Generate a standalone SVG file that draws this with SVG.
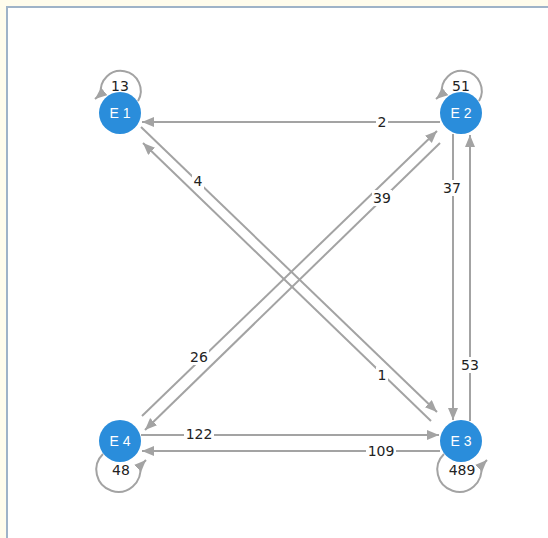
<svg xmlns="http://www.w3.org/2000/svg" width="548" height="538" viewBox="0 0 548 538">
<defs>
<style>
.e{fill:none;stroke:#a3a3a3;stroke-width:2}
.n{fill:#2a8ddb}
.nl{font-family:"Liberation Sans",Arial,sans-serif;font-size:14px;fill:#ffffff;text-anchor:middle}
.el{font-family:"DejaVu Sans","Liberation Sans",sans-serif;font-size:14px;fill:#222222;text-anchor:middle}
.bg{fill:#ffffff}
</style>
<marker id="ah" markerUnits="userSpaceOnUse" markerWidth="14" markerHeight="12" refX="12" refY="5" orient="auto">
<path d="M0,0 L12,5 L0,10 z" fill="#a3a3a3"/>
</marker>
</defs>
<rect x="0" y="0" width="548" height="538" fill="#fffcec"/>
<rect x="7" y="7" width="545" height="540" fill="#ffffff" stroke="#9fb3c8" stroke-width="2"/>
<g id="connectors">
<line class="e" x1="440" y1="122" x2="142" y2="122" marker-end="url(#ah)"/>
<line class="e" x1="141" y1="127" x2="437" y2="412" marker-end="url(#ah)"/>
<line class="e" x1="431" y1="421" x2="143" y2="143" marker-end="url(#ah)"/>
<line class="e" x1="440" y1="143" x2="145" y2="430" marker-end="url(#ah)"/>
<line class="e" x1="142" y1="416" x2="437" y2="131" marker-end="url(#ah)"/>
<line class="e" x1="453" y1="134" x2="453" y2="420" marker-end="url(#ah)"/>
<line class="e" x1="470" y1="421" x2="470" y2="135" marker-end="url(#ah)"/>
<line class="e" x1="141" y1="435" x2="439" y2="435" marker-end="url(#ah)"/>
<line class="e" x1="440" y1="451" x2="142" y2="451" marker-end="url(#ah)"/>
<path class="e" d="M138,101 A20,20 0 1 0 101,94 L95,99" marker-end="url(#ah)"/>
<path class="e" d="M479,101 A20,20 0 1 0 442,94 L436,99" marker-end="url(#ah)"/>
<path class="e" d="M103,454 A22,22 0 1 0 140,466 L146,460" marker-end="url(#ah)"/>
<path class="e" d="M444,454 A22,22 0 1 0 481,466 L487,460" marker-end="url(#ah)"/>
</g>
<g id="edge-labels">
<rect class="bg" x="376" y="114" width="12" height="16"/><text class="el" x="382" y="127">2</text>
<rect class="bg" x="192" y="173" width="12" height="16"/><text class="el" x="198" y="186">4</text>
<rect class="bg" x="376" y="367" width="12" height="16"/><text class="el" x="382" y="380">1</text>
<rect class="bg" x="372" y="190" width="20" height="16"/><text class="el" x="382" y="203">39</text>
<rect class="bg" x="189" y="349" width="20" height="16"/><text class="el" x="199" y="362">26</text>
<rect class="bg" x="442" y="180" width="20" height="16"/><text class="el" x="452" y="193">37</text>
<rect class="bg" x="460" y="357" width="20" height="16"/><text class="el" x="470" y="370">53</text>
<rect class="bg" x="184" y="426" width="30" height="16"/><text class="el" x="199" y="439">122</text>
<rect class="bg" x="366" y="443" width="30" height="16"/><text class="el" x="381" y="456">109</text>
<text class="el" x="120" y="91">13</text>
<text class="el" x="461" y="91">51</text>
<text class="el" x="121" y="475">48</text>
<text class="el" x="462" y="475">489</text>
</g>
<g id="E1"><circle class="n" cx="120" cy="113" r="21"/><text class="nl" x="120" y="118">E 1</text></g>
<g id="E2"><circle class="n" cx="461" cy="113" r="21"/><text class="nl" x="461" y="118">E 2</text></g>
<g id="E3"><circle class="n" cx="461" cy="441" r="21"/><text class="nl" x="461" y="446">E 3</text></g>
<g id="E4"><circle class="n" cx="120" cy="441" r="21"/><text class="nl" x="120" y="446">E 4</text></g>
</svg>
